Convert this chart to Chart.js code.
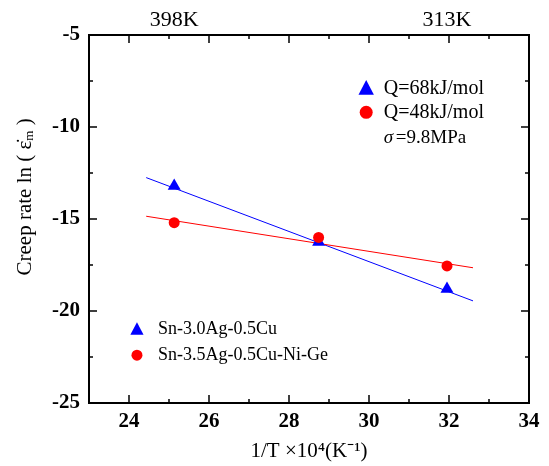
<!DOCTYPE html>
<html lang="en">
<head>
<meta charset="UTF-8">
<script src="https://cdn.jsdelivr.net/npm/chart.js@4.4.0/dist/chart.umd.min.js"></script>
<title>Creep rate vs 1/T</title>
<style>
  body { margin: 0; background: #fff; }
</style>
</head>
<body>
<canvas id="chart" width="549" height="466"></canvas>
<script>
// 1/T x 10^4 (K^-1) at 398K, 348K, 313K
const invT = [25.13, 28.74, 31.95];
const sacRate = [-13.2, -16.25, -18.8];      // Sn-3.0Ag-0.5Cu
const niGeRate = [-15.2, -16.0, -17.55];     // Sn-3.5Ag-0.5Cu-Ni-Ge
// fitted lines (end points)
const fitX = [24.43, 32.6];
const sacFit = [-12.75, -19.45];
const niGeFit = [-14.85, -17.65];
// axes
const xTicks = [24, 26, 28, 30, 32, 34];
const yTicks = [-25, -20, -15, -10, -5];
const tempTicks = [25.13, 31.95];
const tempLabels = ['398K', '313K'];

const serif = "'Liberation Serif', 'Times New Roman', serif";

function pts(xs, ys) {
  return xs.map((v, i) => ({ x: v, y: ys[i] }));
}

const frame = {
  id: 'frame',
  afterDraw(chart) {
    const { ctx, chartArea: { left, right, top, bottom }, scales: { x, y } } = chart;
    ctx.save();
    ctx.strokeStyle = '#000';
    ctx.lineWidth = 2;
    ctx.strokeRect(left, top, right - left, bottom - top);
    ctx.lineWidth = 1.5;
    ctx.beginPath();
    for (let v = 23; v <= 34; v++) {
      const px = x.getPixelForValue(v);
      const len = v % 2 === 0 ? 8 : 4;
      ctx.moveTo(px, bottom); ctx.lineTo(px, bottom - len);
      ctx.moveTo(px, top); ctx.lineTo(px, top + len);
    }
    for (let v = -25; v <= -5; v += 2.5) {
      const py = y.getPixelForValue(v);
      const len = v % 5 === 0 ? 8 : 4;
      ctx.moveTo(left, py); ctx.lineTo(left + len, py);
      ctx.moveTo(right, py); ctx.lineTo(right - len, py);
    }
    ctx.stroke();

    // y axis title, with subscript m
    const h = bottom - top;
    ctx.save();
    ctx.translate(25, top + h * 0.44);
    ctx.rotate(-Math.PI / 2);
    ctx.fillStyle = '#000';
    ctx.textBaseline = 'middle';
    ctx.font = '21px ' + serif;
    const parts = ['Creep rate ln ( ', 'ε̇', 'm', ' )'];
    ctx.font = '21px ' + serif;
    const w0 = ctx.measureText(parts[0]).width;
    const w1 = ctx.measureText(parts[1]).width;
    const w3 = ctx.measureText(parts[3]).width;
    ctx.font = '13px ' + serif;
    const w2 = ctx.measureText(parts[2]).width;
    let cx = -(w0 + w1 + w2 + w3) / 2;
    ctx.font = '21px ' + serif;
    ctx.textAlign = 'left';
    ctx.fillText(parts[0], cx, 0); cx += w0;
    ctx.fillText(parts[1], cx, 0); cx += w1;
    ctx.font = '13px ' + serif;
    ctx.fillText(parts[2], cx, 5); cx += w2;
    ctx.font = '21px ' + serif;
    ctx.fillText(parts[3], cx, 0);
    ctx.restore();

    // in-plot legends
    const w = right - left;
    ctx.textBaseline = 'middle';
    const tri = (cx, cy, s, col) => {
      ctx.fillStyle = col;
      ctx.beginPath();
      ctx.moveTo(cx, cy - s * 0.6);
      ctx.lineTo(cx + s * 0.55, cy + s * 0.45);
      ctx.lineTo(cx - s * 0.55, cy + s * 0.45);
      ctx.closePath();
      ctx.fill();
    };
    const dot = (cx, cy, r, col) => {
      ctx.fillStyle = col;
      ctx.beginPath();
      ctx.arc(cx, cy, r, 0, Math.PI * 2);
      ctx.fill();
    };
    let mx = left + w * 0.63, tx = left + w * 0.67;
    tri(mx, top + h * 0.145, 14, '#0000ff');
    dot(mx, top + h * 0.21, 6.5, '#ff0000');
    ctx.fillStyle = '#000';
    ctx.font = '20px ' + serif;
    ctx.fillText('Q=68kJ/mol', tx, top + h * 0.145);
    ctx.fillText('Q=48kJ/mol', tx, top + h * 0.21);
    ctx.font = 'italic 19px ' + serif;
    ctx.fillText('σ', tx, top + h * 0.28);
    ctx.font = '19px ' + serif;
    ctx.fillText('=9.8MPa', tx + 12, top + h * 0.28);

    mx = left + w * 0.109; tx = left + w * 0.157;
    tri(mx, top + h * 0.80, 12, '#0000ff');
    dot(mx, top + h * 0.87, 5.5, '#ff0000');
    ctx.fillStyle = '#000';
    ctx.font = '18px ' + serif;
    ctx.fillText('Sn-3.0Ag-0.5Cu', tx, top + h * 0.80);
    ctx.fillText('Sn-3.5Ag-0.5Cu-Ni-Ge', tx, top + h * 0.87);
    ctx.restore();
  }
};

const ctx = document.getElementById('chart');
new Chart(ctx, {
  type: 'scatter',
  data: {
    datasets: [
      {
        label: 'Sn-3.0Ag-0.5Cu',
        data: pts(invT, sacRate),
        pointStyle: 'triangle',
        pointRadius: 7.5,
        backgroundColor: '#0000ff',
        borderWidth: 0,
        order: 2
      },
      {
        label: 'Sn-3.5Ag-0.5Cu-Ni-Ge',
        data: pts(invT, niGeRate),
        pointStyle: 'circle',
        pointRadius: 5.5,
        backgroundColor: '#ff0000',
        borderWidth: 0,
        order: 1
      },
      {
        label: 'fit 1',
        data: pts(fitX, sacFit),
        showLine: true,
        pointRadius: 0,
        borderColor: '#0000ff',
        borderWidth: 1,
        order: 4
      },
      {
        label: 'fit 2',
        data: pts(fitX, niGeFit),
        showLine: true,
        pointRadius: 0,
        borderColor: '#ff0000',
        borderWidth: 1,
        order: 3
      }
    ]
  },
  options: {
    responsive: false,
    animation: false,
    layout: { padding: { left: 0, right: 20, top: 0, bottom: 0 } },
    plugins: {
      legend: { display: false },
      tooltip: { enabled: false }
    },
    scales: {
      x: {
        type: 'linear',
        position: 'bottom',
        min: 23, max: 34,
        afterBuildTicks: s => { s.ticks = xTicks.map(v => ({ value: v })); },
        afterFit: s => { s.height = 63; },
        grid: { display: false, drawTicks: false },
        border: { display: false },
        ticks: { color: '#000', padding: 6, maxRotation: 0, font: { family: serif, size: 21, weight: 'bold' } },
        title: {
          display: true,
          text: '1/T ×10⁴(K⁻¹)',
          color: '#000',
          padding: { top: 0, bottom: 2 },
          font: { family: serif, size: 21 }
        }
      },
      x2: {
        type: 'linear',
        position: 'top',
        min: 23, max: 34,
        afterBuildTicks: s => { s.ticks = tempTicks.map(v => ({ value: v })); },
        afterFit: s => { s.height = 35; },
        grid: { display: false, drawTicks: false },
        border: { display: false },
        ticks: {
          color: '#000', padding: 2, maxRotation: 0,
          font: { family: serif, size: 22 },
          callback: (v, i) => tempLabels[i]
        }
      },
      y: {
        type: 'linear',
        min: -25, max: -5,
        afterBuildTicks: s => { s.ticks = yTicks.map(v => ({ value: v })); },
        afterFit: s => { s.width = 89; },
        grid: { display: false, drawTicks: false },
        border: { display: false },
        ticks: { color: '#000', padding: 9, font: { family: serif, size: 21, weight: 'bold' } },
        title: { display: false }
      }
    }
  },
  plugins: [frame]
});
</script>
</body>
</html>
